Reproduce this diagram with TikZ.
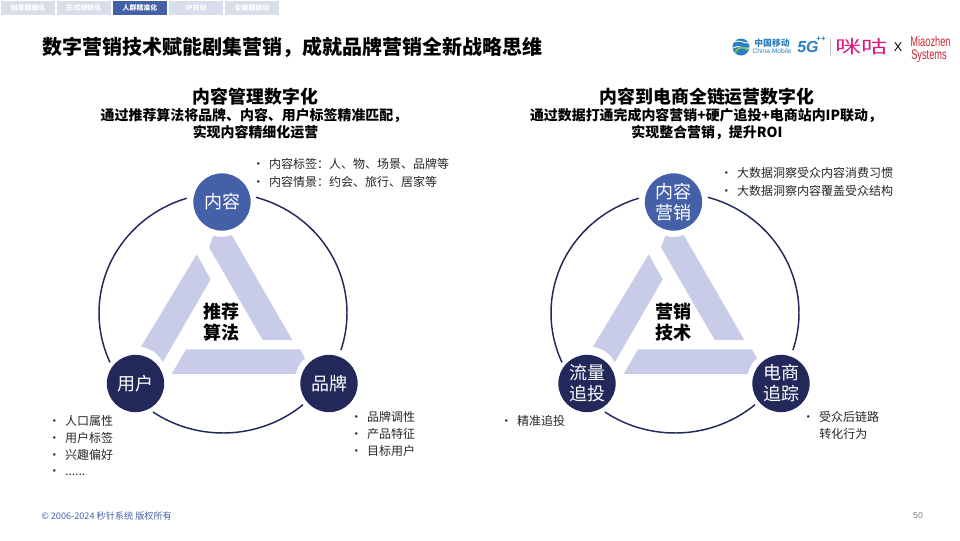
\documentclass[tikz,border=0pt]{standalone}
\usepackage{fontspec}
\setmainfont{Noto Sans CJK SC}
\newfontfamily\latinfont{Liberation Sans}
\usepackage{xcolor}
\definecolor{tabpale}{HTML}{D8DDEB}
\definecolor{tabblue}{HTML}{4460A8}
\definecolor{navy}{HTML}{22285A}
\definecolor{barblue}{HTML}{C9CCE8}
\definecolor{bodygrey}{HTML}{262626}
\definecolor{cmblue}{HTML}{2B7FC0}
\definecolor{cmgreen}{HTML}{8CC152}
\definecolor{migupink}{HTML}{DB1A82}
\definecolor{mzred}{HTML}{C8232C}
\newcommand{\itm}[1]{\makebox[8.6pt][l]{\hspace*{-4pt}\textbullet}#1}
\tikzset{
    tabbox/.style={fill=tabpale,minimum width=40.5pt,minimum height=10.5pt,inner sep=0pt,text=white,font=\fontsize{5.2}{6}\selectfont\bfseries},
    headline/.style={inner sep=0.75pt,font=\fontsize{13.4}{16}\selectfont\bfseries},
    subline/.style={inner sep=0.75pt,font=\fontsize{10.45}{12}\selectfont\bfseries},
    bulletline/.style={anchor=west,inner sep=0pt,text=bodygrey,font=\fontsize{9}{11}\selectfont},
    corenode/.style={circle,minimum size=43pt,inner sep=0pt,text=white,align=center,font=\fontsize{13.5}{15.75}\selectfont},
    hubtext/.style={inner sep=0.75pt,align=center,font=\fontsize{13.5}{15.75}\selectfont\bfseries},
    ringline/.style={color=navy,line width=1.1pt}
}
\begin{document}
\begin{tikzpicture}[x=0.75pt,y=0.75pt,yscale=-1,xscale=1]
    \useasboundingbox (0,0) rectangle (960,540);

    % Tabs
    \node (tabA) [tabbox] at (28,8) {创意精细化};
    \node (tabB) [tabbox] at (84,8) {形式创新化};
    \node (tabC) [tabbox,fill=tabblue] at (140,8) {人群精准化};
    \node (tabD) [tabbox] at (196,8) {IP共创};
    \node (tabE) [tabbox] at (252,8) {全链路联动};

    % Title
    \node (title) [anchor=west,inner sep=0pt,font=\fontsize{15}{18}\selectfont\bfseries] at (42,47) {数字营销技术赋能剧集营销，成就品牌营销全新战略思维};

    % Logos
    \fill [cmblue] (741,47) circle (8.5);
    \draw [white,line width=0.7pt] (734,42) .. controls (739,39) and (745,44) .. (749,43);
    \draw [white,line width=0.7pt] (733,48) .. controls (738,44) and (745,50) .. (749,48);
    \draw [cmgreen,line width=1.1pt] (735,53) .. controls (737,47) and (743,46) .. (748,50);
    \node (cmCn) [inner sep=0pt,text=cmblue,font=\fontsize{6.6}{8}\selectfont\bfseries] at (772,43.5) {中国移动};
    \node (cmEn) [inner sep=0pt,text=cmblue,font=\latinfont\fontsize{5}{6}\selectfont] at (772,51.5) {China Mobile};
    \node (fiveG) [inner sep=0pt,text=cmblue,font=\latinfont\fontsize{12}{12}\selectfont\bfseries\itshape] at (808,47) {5G};
    \node (fivePlus) [inner sep=0pt,text=cmblue,font=\latinfont\fontsize{6}{6}\selectfont\bfseries] at (821,39) {++};
    \draw [color=black!25,line width=0.7pt] (830,38) -- (830,56);
    \node (migu) [inner sep=0pt,xscale=1.45,text=migupink,font=\fontsize{13.5}{16}\selectfont] at (861.5,46.5) {咪咕};
    \node (cross) [inner sep=0pt,font=\latinfont\fontsize{9.5}{11}\selectfont] at (898,47.5) {X};
    \node (mzTop) [inner sep=0pt,xscale=0.66,text=mzred,font=\latinfont\fontsize{10.5}{11}\selectfont] at (930.5,41.5) {Miaozhen};
    \node (mzBot) [inner sep=0pt,xscale=0.66,text=mzred,font=\latinfont\fontsize{10.5}{11}\selectfont] at (929,56.5) {Systems};

    % Headings
    \node (headL) [headline] at (255.5,96.5) {内容管理数字化};
    \node (subLa) [subline] at (254,115.5) {通过推荐算法将品牌、内容、用户标签精准匹配，};
    \node (subLb) [subline] at (255.5,132.5) {实现内容精细化运营};
    \node (headR) [headline] at (707,96.5) {内容到电商全链运营数字化};
    \node (subRa) [subline] at (706,115.5) {通过数据打通完成内容营销+硬广追投+电商站内IP联动，};
    \node (subRb) [subline] at (707,132.5) {实现整合营销，提升ROI};

    % Bars and ring, same shape on both sides
    \foreach \dx in {0,452} {
    \begin{scope}[shift={(\dx,0)}]
        \fill [barblue] (213.3,235.7) .. controls (219,237.5) and (225,237.5) .. (231.7,235) -- (292.3,340) -- (262.7,340) -- (209,247.3) -- cycle;
        \fill [barblue] (196.7,254.3) -- (210.7,279.3) -- (162.7,362.3) .. controls (159,354) and (151,348.5) .. (141,346.7) -- cycle;
        \fill [barblue] (186,349.3) -- (300,349.3) -- (305,358.3) .. controls (300,362) and (297,368) .. (295.7,374) -- (171.7,374) -- cycle;
        \coordinate (ring) at (223,313);
        \draw [ringline] ([shift={(-74.6:124 and 120)}]ring) arc[start angle=-74.6,end angle=18,x radius=124,y radius=120];
        \draw [ringline] ([shift={(49.8:124 and 120)}]ring) arc[start angle=49.8,end angle=124.4,x radius=124,y radius=120];
        \draw [ringline] ([shift={(155.7:124 and 120)}]ring) arc[start angle=155.7,end angle=253,x radius=124,y radius=120];
    \end{scope}
    }

    % Left circles
    \node (content) [corenode,fill=tabblue] at (222,202) {内容};
    \node (user) [corenode,fill=navy] at (135.5,383.5) {用户};
    \node (brand) [corenode,fill=navy] at (329,383.5) {品牌};
    \node (hubL) [hubtext] at (221.5,322) {推荐\\算法};

    % Right circles
    \node (marketing) [corenode,fill=tabblue] at (673.5,202) {内容\\营销};
    \node (traffic) [corenode,fill=navy] at (587,383.5) {流量\\追投};
    \node (shop) [corenode,fill=navy] at (781,383.5) {电商\\追踪};
    \node (hubR) [hubtext] at (673.5,322) {营销\\技术};

    % Bullet lists
    \node (contentA) [bulletline] at (257.5,164) {\itm{内容标签：人、物、场景、品牌等}};
    \node (contentB) [bulletline] at (257.5,182) {\itm{内容情景：约会、旅行、居家等}};
    \node (brandA) [bulletline] at (355.5,417) {\itm{品牌调性}};
    \node (brandB) [bulletline] at (355.5,434) {\itm{产品特征}};
    \node (brandC) [bulletline] at (355.5,451) {\itm{目标用户}};
    \node (userA) [bulletline] at (53.5,421) {\itm{人口属性}};
    \node (userB) [bulletline] at (53.5,438) {\itm{用户标签}};
    \node (userC) [bulletline] at (53.5,455) {\itm{兴趣偏好}};
    \node (userD) [bulletline] at (53.5,473) {\itm{......}};
    \node (marketA) [bulletline] at (725.5,173) {\itm{大数据洞察受众内容消费习惯}};
    \node (marketB) [bulletline] at (725.5,191) {\itm{大数据洞察内容覆盖受众结构}};
    \node (trafficA) [bulletline] at (505.5,421) {\itm{精准追投}};
    \node (shopA) [bulletline] at (807.5,417) {\itm{受众后链路}};
    \node (shopB) [bulletline] at (819,434) {转化行为};

    % Footer
    \node (footer) [anchor=west,inner sep=0pt,text=tabblue,font=\fontsize{6.85}{8}\selectfont] at (41,516) {© 2006-2024 秒针系统 版权所有};
    \node (pageno) [inner sep=0pt,text=black!50,font=\latinfont\fontsize{6.5}{8}\selectfont] at (918,516) {50};
\end{tikzpicture}
\end{document}
